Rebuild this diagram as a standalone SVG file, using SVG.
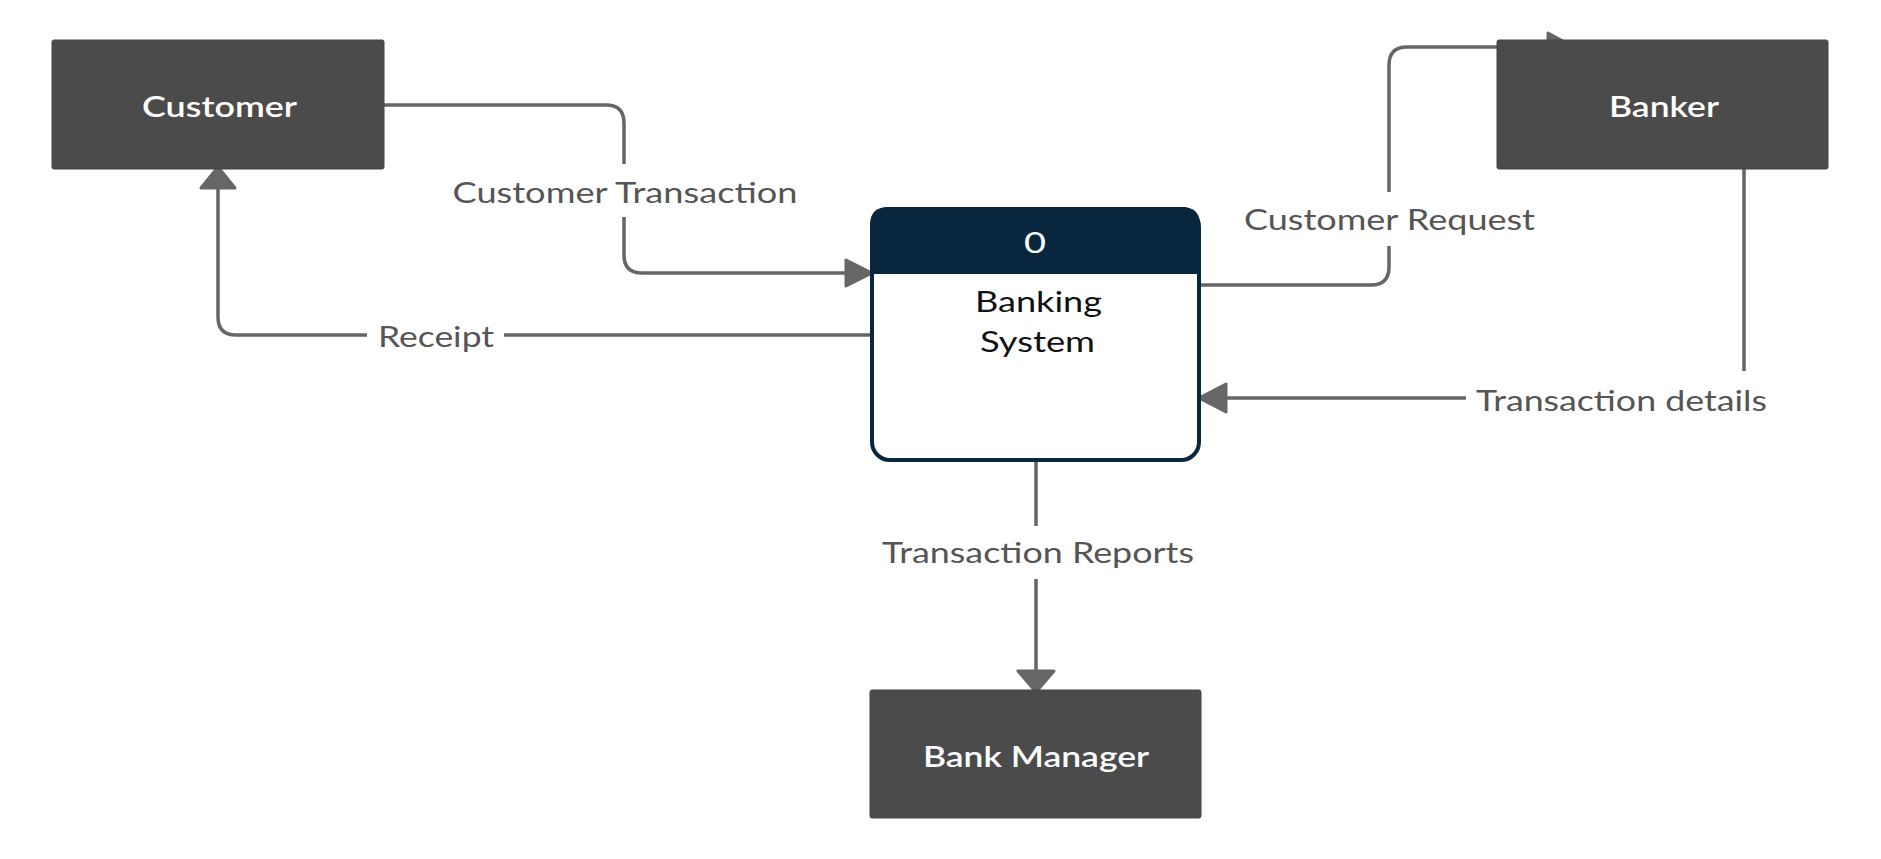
<svg xmlns="http://www.w3.org/2000/svg" width="1881" height="859" viewBox="0 0 1881 859">
<style>
.edge{fill:none;stroke:#666;stroke-width:3.5;stroke-linejoin:round}
.head{fill:#666;stroke:#666;stroke-width:3;stroke-linejoin:round}
.lbg{fill:#fff}
.lbl{font-family:Lato,"Liberation Sans",sans-serif;font-size:28px;fill:#555;text-anchor:middle}
.ext{fill:#4b4b4b;stroke:#444;stroke-width:1}
.extt{font-family:Lato,"Liberation Sans",sans-serif;font-size:28px;font-weight:600;fill:#fff;text-anchor:middle}
.proct{font-family:Lato,"Liberation Sans",sans-serif;font-size:28px;fill:#111;text-anchor:middle}
</style>
<rect width="1881" height="859" fill="#fff"/>
<g id="connectors">
  <g id="e-customer-transaction">
    <path class="edge" d="M384,105 H606 Q624,105 624,123 V255 Q624,273 642,273 H846"/>
    <polygon class="head" points="872,273 846,260 846,286"/>
    <rect class="lbg" x="445" y="164" width="361" height="53"/>
    <text class="lbl" x="625" y="203" textLength="345" lengthAdjust="spacingAndGlyphs">Customer Transaction</text>
  </g>
  <g id="e-receipt">
    <path class="edge" d="M870,335 H236 Q218,335 218,317 V188"/>
    <polygon class="head" points="218,167 201,188 235,188"/>
    <rect class="lbg" x="367" y="315" width="137" height="45"/>
    <text class="lbl" x="436" y="347" textLength="116" lengthAdjust="spacingAndGlyphs">Receipt</text>
  </g>
  <g id="e-customer-request">
    <path class="edge" d="M1200,285 H1371 Q1389,285 1389,267 V65 Q1389,47 1407,47 H1548"/>
    <polygon class="head" points="1574,47 1548,33 1548,61"/>
    <rect class="lbg" x="1236" y="192" width="307" height="54"/>
    <text class="lbl" x="1389.5" y="230" textLength="291" lengthAdjust="spacingAndGlyphs">Customer Request</text>
  </g>
  <g id="e-transaction-details">
    <path class="edge" d="M1744,169 V398 H1226"/>
    <polygon class="head" points="1199,398 1226,384 1226,412"/>
    <rect class="lbg" x="1466" y="371" width="309" height="54"/>
    <text class="lbl" x="1621.5" y="411" textLength="291" lengthAdjust="spacingAndGlyphs">Transaction details</text>
  </g>
  <g id="e-transaction-reports">
    <path class="edge" d="M1036,462 V671"/>
    <polygon class="head" points="1036,692 1018,671 1054,671"/>
    <rect class="lbg" x="874" y="526" width="328" height="53"/>
    <text class="lbl" x="1038" y="563" textLength="312" lengthAdjust="spacingAndGlyphs">Transaction Reports</text>
  </g>
</g>
<g id="customer">
  <rect class="ext" x="52" y="40" width="332" height="129" rx="2"/>
  <text class="extt" x="219.5" y="117" textLength="155" lengthAdjust="spacingAndGlyphs">Customer</text>
</g>
<g id="banker">
  <rect class="ext" x="1497" y="40" width="331" height="129" rx="2"/>
  <text class="extt" x="1664" y="117" textLength="110" lengthAdjust="spacingAndGlyphs">Banker</text>
</g>
<g id="bank-manager">
  <rect class="ext" x="870" y="690" width="331" height="128" rx="2"/>
  <text class="extt" x="1036" y="767" textLength="226" lengthAdjust="spacingAndGlyphs">Bank Manager</text>
</g>
<g id="banking-system">
  <rect x="872" y="209" width="327" height="251" rx="18" fill="#fff" stroke="#08263d" stroke-width="4"/>
  <path d="M870,274 V225 Q870,207 888,207 H1182 Q1200,207 1200,225 V274 Z" fill="#08263d"/>
  <text x="1035" y="253" font-family="Lato,'Liberation Sans',sans-serif" font-size="28" fill="#fff" text-anchor="middle" textLength="22" lengthAdjust="spacingAndGlyphs">0</text>
  <text class="proct" x="1038.5" y="312" textLength="127" lengthAdjust="spacingAndGlyphs">Banking</text>
  <text class="proct" x="1037.5" y="352" textLength="115" lengthAdjust="spacingAndGlyphs">System</text>
</g>
</svg>
